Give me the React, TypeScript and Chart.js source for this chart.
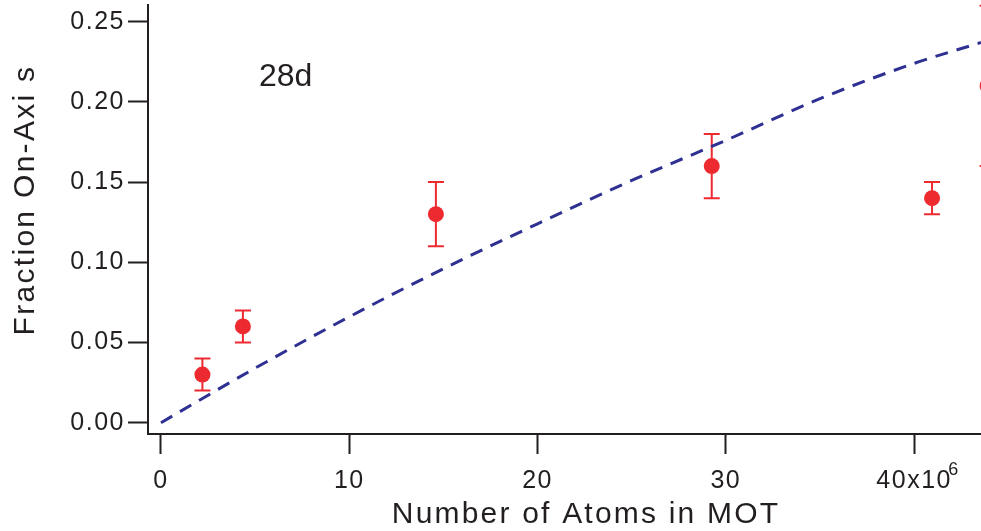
import React, { useEffect, useRef } from "react";
import { Chart, registerables } from "chart.js";

Chart.register(...registerables);

// ---- data ----
const atomsMillions = [2.2, 4.35, 14.6, 29.25, 40.95, 43.9];
const fractionOnAxis = [0.03, 0.06, 0.13, 0.16, 0.14, 0.21];
const fractionError = [0.01, 0.01, 0.02, 0.02, 0.01, 0.05];

const fitAtoms = [0, 5, 10, 15, 20, 25, 30, 35, 40, 43.55];
const fitFraction = [0, 0.034, 0.066, 0.096, 0.124, 0.151, 0.176, 0.202, 0.224, 0.237];

const xTickValues = [0, 10, 20, 30, 40];
const xTickLabels = ["0", "10", "20", "30", "40x10"];
const xTickExponent = "6";
const yTickValues = [0, 0.05, 0.1, 0.15, 0.2, 0.25];
const yTickLabels = ["0.00", "0.05", "0.10", "0.15", "0.20", "0.25"];

const xAxisTitle = "Number of Atoms in MOT";
const yAxisTitle = "Fraction On-Axi s";
const annotationText = "28d";
const annotationX = 5.2;
const annotationY = 0.21;

const xMin = -0.69;
const xMax = 43.55;
const yMin = -0.00705;
const yMax = 0.2604;

// ---- styles ----
const FONT = "'Liberation Sans', Arial, Helvetica, sans-serif";
const INK = "#231f20";
const RED = "#ed2a30";
const NAVY = "#2e3192";

const decorations = {
  id: "decorations",
  beforeDraw(chart: any) {
    chart.ctx.letterSpacing = "1.5px";
  },
  beforeDatasetsDraw(chart: any) {
    const ctx = chart.ctx;
    const xs = chart.scales.x;
    const ys = chart.scales.y;
    ctx.save();
    ctx.strokeStyle = RED;
    ctx.lineWidth = 2;
    for (let i = 0; i < atomsMillions.length; i++) {
      const px = xs.getPixelForValue(atomsMillions[i]);
      const top = ys.getPixelForValue(fractionOnAxis[i] + fractionError[i]);
      const bot = ys.getPixelForValue(fractionOnAxis[i] - fractionError[i]);
      ctx.beginPath();
      ctx.moveTo(px, top);
      ctx.lineTo(px, bot);
      ctx.moveTo(px - 8, top);
      ctx.lineTo(px + 8, top);
      ctx.moveTo(px - 8, bot);
      ctx.lineTo(px + 8, bot);
      ctx.stroke();
    }
    ctx.restore();
  },
  afterDraw(chart: any) {
    const ctx = chart.ctx;
    const xs = chart.scales.x;
    const ys = chart.scales.y;
    const area = chart.chartArea;
    ctx.save();
    ctx.fillStyle = INK;

    // x axis title
    ctx.letterSpacing = "2.2px";
    ctx.font = `30px ${FONT}`;
    ctx.textAlign = "center";
    ctx.textBaseline = "alphabetic";
    ctx.fillText(xAxisTitle, 586, 523);

    // y axis title
    ctx.save();
    ctx.translate(34, 200);
    ctx.rotate(-Math.PI / 2);
    ctx.letterSpacing = "2.3px";
    ctx.textAlign = "center";
    ctx.fillText(yAxisTitle, 0, 0);
    ctx.restore();

    // annotation
    ctx.letterSpacing = "0px";
    ctx.font = `32px ${FONT}`;
    ctx.textAlign = "left";
    ctx.fillText(annotationText, xs.getPixelForValue(annotationX), ys.getPixelForValue(annotationY));

    // exponent on last x tick
    ctx.font = `18px ${FONT}`;
    ctx.fillText(xTickExponent, xs.getPixelForValue(xTickValues[xTickValues.length - 1]) + 34, area.bottom + 41);
    ctx.restore();
    ctx.letterSpacing = "0px";
  },
};

export default function App() {
  const canvasRef = useRef<HTMLCanvasElement | null>(null);

  useEffect(() => {
    if (!canvasRef.current) return;
    const chart = new Chart(canvasRef.current, {
      type: "scatter",
      data: {
        datasets: [
          {
            label: "data",
            data: atomsMillions.map((x, i) => ({ x, y: fractionOnAxis[i] })),
            backgroundColor: RED,
            borderWidth: 0,
            pointRadius: 8,
            pointHoverRadius: 8,
            clip: false as any,
            order: 1,
          },
          {
            label: "fit",
            type: "line" as any,
            data: fitAtoms.map((x, i) => ({ x, y: fitFraction[i] })),
            showLine: true,
            borderColor: NAVY,
            borderWidth: 3,
            borderDash: [13, 9],
            pointRadius: 0,
            fill: false,
            cubicInterpolationMode: "monotone",
            order: 2,
          } as any,
        ],
      },
      options: {
        responsive: false,
        animation: false,
        events: [],
        layout: { autoPadding: false, padding: { left: 0, right: 0, top: 5, bottom: 0 } },
        plugins: {
          legend: { display: false },
          tooltip: { enabled: false },
          title: { display: false },
        },
        scales: {
          x: {
            type: "linear",
            min: xMin,
            max: xMax,
            afterBuildTicks(scale: any) {
              scale.ticks = xTickValues.map((v) => ({ value: v }));
            },
            afterFit(scale: any) {
              scale.height = 97;
              scale.paddingLeft = 0;
              scale.paddingRight = 0;
            },
            ticks: {
              callback: (_v: any, i: number) => xTickLabels[i],
              font: { family: FONT, size: 25 },
              color: INK,
              padding: 12,
              maxRotation: 0,
              autoSkip: false,
            },
            grid: {
              display: true,
              drawOnChartArea: false,
              drawTicks: true,
              tickLength: 20,
              tickWidth: 2,
              tickColor: INK,
            },
            border: { display: true, color: INK, width: 2 },
            title: { display: false },
          },
          y: {
            type: "linear",
            min: yMin,
            max: yMax,
            afterBuildTicks(scale: any) {
              scale.ticks = yTickValues.map((v) => ({ value: v }));
            },
            afterFit(scale: any) {
              scale.width = 148;
              scale.paddingTop = 0;
              scale.paddingBottom = 0;
            },
            ticks: {
              callback: (_v: any, i: number) => yTickLabels[i],
              font: { family: FONT, size: 25 },
              color: INK,
              padding: 3,
              autoSkip: false,
            },
            grid: {
              display: true,
              drawOnChartArea: false,
              drawTicks: true,
              tickLength: 20,
              tickWidth: 2,
              tickColor: INK,
            },
            border: { display: true, color: INK, width: 2 },
            title: { display: false },
          },
        },
      },
      plugins: [decorations],
    });
    return () => chart.destroy();
  }, []);

  return (
    <div
      style={{
        position: "fixed",
        left: 0,
        top: 0,
        width: 981,
        height: 531,
        overflow: "hidden",
        background: "#ffffff",
      }}
    >
      <canvas ref={canvasRef} width={981} height={531} style={{ display: "block" }} />
    </div>
  );
}
